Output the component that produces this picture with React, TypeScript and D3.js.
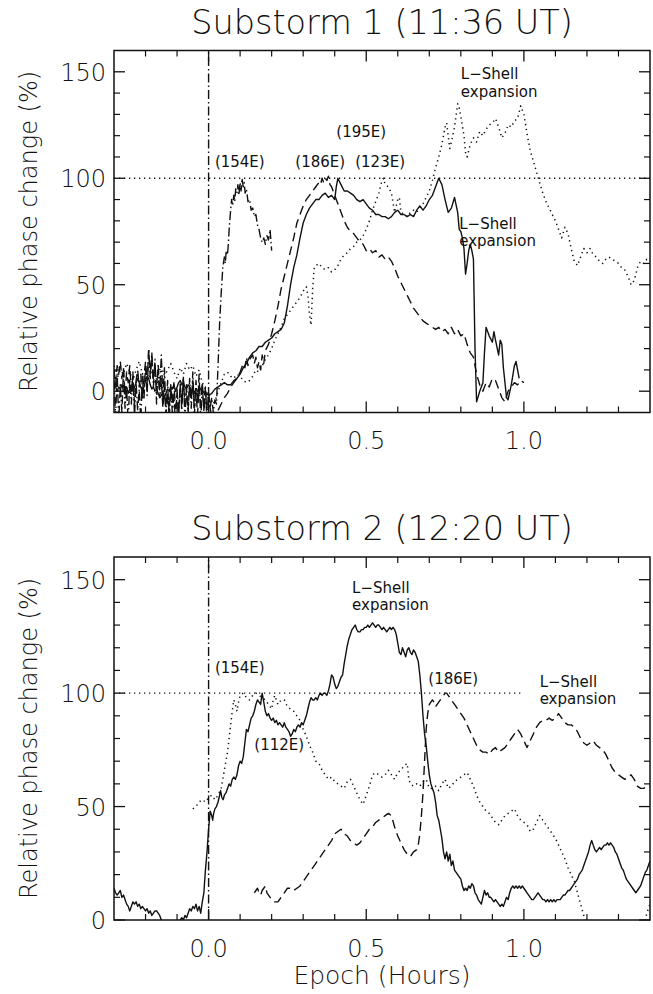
import React from "react";
import * as d3 from "d3";

type Pt = [number, number];

// ---- axes ----
const xDomain: [number, number] = [-0.3, 1.4];
const xMajorTicks = [0, 0.5, 1.0];
const xMajorLabels = ["0.0", "0.5", "1.0"];
const xMinorTicks = [-0.2, -0.1, 0.1, 0.2, 0.3, 0.4, 0.6, 0.7, 0.8, 0.9, 1.1, 1.2, 1.3];
const yMajorTicks = [0, 50, 100, 150];
const yMajorLabels = ["0", "50", "100", "150"];
const yMinorTicks = [10, 20, 30, 40, 60, 70, 80, 90, 110, 120, 130, 140];
const yDomainTop: [number, number] = [-10, 160];
const yDomainBottom: [number, number] = [0, 160];

const titleTop = "Substorm 1 (11:36 UT)";
const titleBottom = "Substorm 2 (12:20 UT)";
const yTitle = "Relative phase change (%)";
const xTitle = "Epoch (Hours)";

// ---- Substorm 1 series: [epoch hours, relative phase change %] ----
const s1Station154: Pt[] = [
  [-0.3, 5], [-0.295, -12], [-0.29, 8], [-0.285, -14], [-0.28, 3], [-0.275, -10], [-0.27, 10], [-0.265, -8],
  [-0.26, 2], [-0.255, -15], [-0.25, 6], [-0.245, -6], [-0.24, 9], [-0.235, -12], [-0.23, 4], [-0.225, -9],
  [-0.22, 1], [-0.215, -14], [-0.21, 7], [-0.205, -4], [-0.2, 12], [-0.195, -2], [-0.19, 20], [-0.185, 6],
  [-0.18, 18], [-0.175, 2], [-0.17, 15], [-0.165, -6], [-0.16, 13], [-0.155, 0], [-0.15, 17], [-0.145, -3],
  [-0.14, 11], [-0.135, -12], [-0.13, 5], [-0.125, -14], [-0.12, 2], [-0.115, -10], [-0.11, -2], [-0.105, -15],
  [-0.1, 1], [-0.095, -12], [-0.09, 4], [-0.085, -9], [-0.08, 7], [-0.075, -13], [-0.07, 3], [-0.065, -11],
  [-0.06, 6], [-0.055, -8], [-0.05, 9], [-0.045, -12], [-0.04, 5], [-0.035, -6], [-0.03, 8], [-0.025, -14],
  [-0.02, 3], [-0.015, -9], [-0.01, 2], [-0.005, -12], [0, 0], [0.005, -8], [0.01, -3], [0.015, -10],
  [0.02, -4], [0.025, -6], [0.03, 12], [0.035, 32], [0.04, 46], [0.045, 58], [0.05, 63], [0.053, 60],
  [0.056, 66], [0.06, 64], [0.063, 70], [0.066, 78], [0.07, 85], [0.073, 90], [0.076, 87], [0.08, 92],
  [0.083, 89], [0.086, 95], [0.09, 93], [0.093, 97], [0.096, 92], [0.1, 98], [0.103, 94], [0.106, 100],
  [0.11, 96], [0.113, 98], [0.116, 93], [0.12, 95], [0.125, 89], [0.13, 90], [0.135, 85], [0.14, 86],
  [0.145, 82], [0.15, 83], [0.155, 78], [0.16, 76], [0.165, 72], [0.17, 70], [0.175, 72], [0.18, 69],
  [0.185, 73], [0.19, 71], [0.195, 76], [0.2, 66],
];

const s1Station186: Pt[] = [
  [-0.3, 10], [-0.295, 3], [-0.29, 12], [-0.285, 8], [-0.28, 14], [-0.275, 6], [-0.27, 11], [-0.265, -2],
  [-0.26, 9], [-0.255, 4], [-0.25, 12], [-0.245, 0], [-0.24, 7], [-0.235, -6], [-0.23, 5], [-0.225, 10],
  [-0.22, 2], [-0.215, 8], [-0.21, -4], [-0.205, 6], [-0.2, 14], [-0.195, 4], [-0.19, 19], [-0.185, 9],
  [-0.18, 16], [-0.175, 5], [-0.17, 12], [-0.165, 3], [-0.16, 10], [-0.155, -3], [-0.15, 6], [-0.145, -8],
  [-0.14, 2], [-0.135, -11], [-0.13, -2], [-0.125, -9], [-0.12, 3], [-0.115, -6], [-0.11, 4], [-0.105, -8],
  [-0.1, -1], [-0.095, -10], [-0.09, 2], [-0.085, -5], [-0.08, 6], [-0.075, -7], [-0.07, 1], [-0.065, -9],
  [-0.06, 3], [-0.055, -4], [-0.05, 5], [-0.045, -8], [-0.04, 0], [-0.035, -11], [-0.03, 2], [-0.025, -6],
  [-0.02, 4], [-0.015, -9], [-0.01, 0], [-0.005, -13], [0, -4], [0.01, -12], [0.02, -14], [0.03, -9],
  [0.04, -6], [0.05, -3], [0.06, -1], [0.07, 2], [0.08, 4], [0.09, 6], [0.1, 9], [0.11, 13],
  [0.115, 11], [0.12, 16], [0.125, 12], [0.13, 15], [0.14, 17], [0.145, 13], [0.15, 16], [0.155, 11],
  [0.16, 14], [0.165, 10], [0.17, 17], [0.175, 13], [0.18, 19], [0.19, 22], [0.2, 27], [0.21, 33],
  [0.22, 40], [0.23, 48], [0.24, 54], [0.25, 60], [0.26, 66], [0.27, 72], [0.28, 79], [0.29, 83],
  [0.3, 87], [0.31, 90], [0.32, 92], [0.33, 94], [0.34, 96], [0.35, 98], [0.355, 97], [0.36, 100],
  [0.365, 98], [0.37, 100], [0.375, 99], [0.38, 101], [0.385, 97], [0.39, 96], [0.4, 92], [0.41, 88],
  [0.42, 84], [0.43, 80], [0.44, 77], [0.45, 75], [0.46, 74], [0.47, 72], [0.48, 70], [0.49, 69],
  [0.5, 66], [0.51, 67], [0.52, 65], [0.53, 66], [0.54, 63], [0.55, 64], [0.56, 62], [0.57, 63],
  [0.58, 61], [0.59, 58], [0.6, 54], [0.61, 51], [0.62, 48], [0.63, 45], [0.64, 42], [0.65, 39],
  [0.66, 37], [0.67, 35], [0.68, 33], [0.69, 32], [0.7, 31], [0.71, 30], [0.72, 29], [0.73, 30],
  [0.74, 28], [0.75, 29], [0.76, 27], [0.77, 30], [0.78, 27], [0.79, 29], [0.8, 26], [0.81, 27],
  [0.82, 22], [0.83, 18], [0.84, 16], [0.85, 8], [0.86, 3], [0.87, 0], [0.88, 4], [0.89, 2],
  [0.9, 6], [0.91, 5], [0.92, 1], [0.93, -3], [0.94, -5], [0.95, 0], [0.96, 2], [0.97, 4],
  [0.98, 3], [0.99, 5], [1.0, 4],
];

const s1Station195: Pt[] = [
  [-0.3, 4], [-0.295, 2], [-0.29, 0], [-0.285, 2], [-0.28, 1], [-0.275, 3], [-0.27, 0], [-0.265, 1],
  [-0.26, 2], [-0.255, -1], [-0.25, 1], [-0.245, 3], [-0.24, 0], [-0.235, 2], [-0.23, 4], [-0.225, 6],
  [-0.22, 4], [-0.215, 2], [-0.21, 0], [-0.205, 2], [-0.2, 5], [-0.195, 7], [-0.19, 6], [-0.185, 3],
  [-0.18, 1], [-0.175, 2], [-0.17, 0], [-0.165, 1], [-0.16, -1], [-0.155, -3], [-0.15, -2], [-0.145, 0],
  [-0.14, -3], [-0.135, -1], [-0.13, 1], [-0.125, 0], [-0.12, 2], [-0.115, 1], [-0.11, 3], [-0.105, 0],
  [-0.1, 2], [-0.095, 4], [-0.09, 5], [-0.085, 3], [-0.08, 4], [-0.075, 2], [-0.07, 1], [-0.065, 3],
  [-0.06, 2], [-0.055, 0], [-0.05, 1], [-0.045, -1], [-0.04, 1], [-0.035, 0], [-0.03, 2], [-0.025, 1],
  [-0.02, -1], [-0.015, 0], [-0.01, -2], [-0.005, -1], [0, -2], [0.01, -1], [0.02, 1], [0.03, 2],
  [0.04, 3], [0.05, 4], [0.06, 3], [0.07, 3], [0.08, 5], [0.09, 6], [0.1, 8], [0.11, 11],
  [0.12, 13], [0.13, 16], [0.14, 18], [0.15, 19], [0.16, 21], [0.17, 21], [0.18, 23], [0.19, 24],
  [0.2, 25], [0.21, 27], [0.22, 28], [0.23, 29], [0.24, 32], [0.25, 40], [0.26, 50], [0.27, 58],
  [0.28, 64], [0.29, 72], [0.3, 79], [0.31, 83], [0.32, 86], [0.33, 88], [0.34, 90], [0.35, 90],
  [0.36, 92], [0.37, 93], [0.38, 91], [0.39, 92], [0.4, 90], [0.405, 96], [0.41, 100], [0.42, 97],
  [0.43, 94], [0.44, 94], [0.45, 93], [0.46, 92], [0.47, 90], [0.48, 89], [0.49, 90], [0.5, 88],
  [0.51, 86], [0.52, 85], [0.53, 83], [0.54, 83], [0.55, 82], [0.56, 82], [0.57, 81], [0.58, 82],
  [0.59, 84], [0.6, 85], [0.61, 83], [0.62, 83], [0.63, 82], [0.64, 83], [0.65, 82], [0.66, 85],
  [0.67, 87], [0.68, 85], [0.69, 87], [0.7, 90], [0.71, 92], [0.72, 96], [0.73, 100], [0.74, 97],
  [0.75, 90], [0.76, 84], [0.77, 86], [0.78, 91], [0.79, 84], [0.795, 76], [0.8, 75], [0.805, 72],
  [0.81, 67], [0.815, 55], [0.82, 60], [0.825, 66], [0.83, 69], [0.835, 66], [0.84, 62], [0.845, 20],
  [0.85, -5], [0.86, 0], [0.87, 4], [0.875, 18], [0.88, 30], [0.89, 26], [0.9, 23], [0.905, 28],
  [0.91, 24], [0.92, 17], [0.925, 24], [0.93, 22], [0.935, 11], [0.945, -3], [0.95, -4], [0.96, 3],
  [0.97, 12], [0.975, 14], [0.98, 10], [0.985, 6],
];

const s1Station123: Pt[] = [
  [-0.3, 12], [-0.29, 6], [-0.28, 10], [-0.27, 8], [-0.26, 13], [-0.25, 9], [-0.24, 5], [-0.23, 10],
  [-0.22, 14], [-0.21, 8], [-0.2, 11], [-0.19, 6], [-0.18, 9], [-0.17, 4], [-0.16, 8], [-0.15, 12],
  [-0.14, 7], [-0.13, 10], [-0.12, 13], [-0.11, 9], [-0.1, 6], [-0.09, 11], [-0.08, 8], [-0.07, 13],
  [-0.06, 10], [-0.05, 12], [-0.04, 7], [-0.03, 10], [-0.02, 4], [-0.01, 1], [0, -4], [0.01, -6],
  [0.02, -5], [0.03, 0], [0.04, 4], [0.05, 8], [0.06, 9], [0.07, 7], [0.08, 6], [0.09, 8],
  [0.1, 7], [0.11, 5], [0.12, 4], [0.13, 5], [0.14, 7], [0.15, 10], [0.16, 9], [0.17, 12],
  [0.18, 15], [0.19, 17], [0.2, 20], [0.21, 24], [0.22, 27], [0.23, 30], [0.24, 34], [0.25, 36],
  [0.26, 38], [0.27, 40], [0.28, 42], [0.29, 44], [0.3, 47], [0.31, 49], [0.315, 45], [0.32, 36],
  [0.325, 31], [0.33, 48], [0.335, 58], [0.34, 59], [0.35, 60], [0.36, 58], [0.37, 57], [0.38, 58],
  [0.39, 56], [0.4, 57], [0.41, 59], [0.42, 62], [0.43, 64], [0.44, 65], [0.45, 67], [0.46, 68],
  [0.47, 70], [0.48, 71], [0.49, 73], [0.5, 76], [0.51, 80], [0.52, 85], [0.53, 89], [0.54, 93],
  [0.55, 99], [0.555, 100], [0.56, 97], [0.57, 96], [0.58, 93], [0.59, 84], [0.6, 90], [0.605, 91],
  [0.61, 84], [0.62, 83], [0.63, 82], [0.64, 84], [0.65, 85], [0.66, 84], [0.67, 86], [0.68, 88],
  [0.69, 91], [0.7, 94], [0.71, 99], [0.72, 105], [0.73, 110], [0.74, 116], [0.75, 124], [0.755, 126],
  [0.76, 120], [0.765, 114], [0.77, 117], [0.78, 124], [0.79, 135], [0.795, 133], [0.8, 129], [0.81, 120],
  [0.815, 112], [0.82, 110], [0.83, 116], [0.84, 119], [0.85, 117], [0.86, 122], [0.87, 120], [0.88, 123],
  [0.89, 125], [0.9, 126], [0.91, 128], [0.92, 124], [0.93, 119], [0.94, 121], [0.95, 125], [0.96, 124],
  [0.97, 127], [0.98, 128], [0.99, 134], [1.0, 130], [1.01, 121], [1.02, 113], [1.03, 108], [1.04, 103],
  [1.05, 98], [1.06, 93], [1.07, 89], [1.08, 86], [1.09, 83], [1.1, 80], [1.11, 76], [1.12, 72],
  [1.13, 77], [1.14, 74], [1.15, 67], [1.16, 61], [1.17, 59], [1.18, 63], [1.19, 67], [1.2, 65],
  [1.21, 67], [1.22, 64], [1.23, 63], [1.24, 61], [1.25, 60], [1.26, 62], [1.27, 63], [1.28, 62],
  [1.29, 61], [1.3, 60], [1.31, 58], [1.32, 57], [1.33, 54], [1.34, 50], [1.35, 52], [1.36, 58],
  [1.37, 61], [1.38, 60], [1.39, 62], [1.4, 61],
];

// ---- Substorm 2 series ----
const s2Station154: Pt[] = [
  [-0.3, 14], [-0.295, 12], [-0.29, 11], [-0.285, 12], [-0.28, 13], [-0.275, 10], [-0.27, 11], [-0.265, 9],
  [-0.26, 7], [-0.255, 6], [-0.25, 4], [-0.245, 6], [-0.24, 8], [-0.235, 7], [-0.23, 8], [-0.225, 6],
  [-0.22, 7], [-0.215, 5], [-0.21, 6], [-0.205, 5], [-0.2, 4], [-0.195, 5], [-0.19, 3], [-0.185, 4],
  [-0.18, 2], [-0.175, 3], [-0.17, 4], [-0.165, 4], [-0.16, 3], [-0.155, 2], [-0.15, 0], [-0.145, -2],
  [-0.14, -4], [-0.12, -6], [-0.1, -3], [-0.09, 0], [-0.085, 1], [-0.08, 0], [-0.075, 2], [-0.07, 1],
  [-0.065, 3], [-0.06, 5], [-0.055, 4], [-0.05, 6], [-0.045, 5], [-0.04, 7], [-0.035, 4], [-0.03, 6],
  [-0.025, 3], [-0.02, 8], [-0.015, 12], [-0.01, 22], [-0.005, 30], [0, 40], [0.005, 48], [0.01, 46],
  [0.013, 44], [0.016, 47], [0.02, 49], [0.025, 50], [0.03, 52], [0.035, 55], [0.038, 57], [0.042, 54],
  [0.046, 53], [0.05, 55], [0.055, 56], [0.06, 58], [0.065, 60], [0.07, 59], [0.075, 62], [0.08, 63],
  [0.085, 62], [0.09, 64], [0.095, 68], [0.1, 70], [0.105, 69], [0.11, 72], [0.115, 78], [0.12, 84],
  [0.125, 83], [0.13, 86], [0.135, 89], [0.14, 90], [0.145, 92], [0.15, 95], [0.155, 97], [0.16, 96],
  [0.165, 95], [0.17, 100], [0.175, 96], [0.18, 92], [0.185, 90], [0.19, 91], [0.195, 89], [0.2, 88],
  [0.205, 89], [0.21, 87], [0.215, 88], [0.22, 86], [0.225, 87], [0.23, 86], [0.235, 85], [0.24, 87],
  [0.245, 85], [0.25, 84], [0.255, 83], [0.26, 81], [0.265, 82], [0.27, 84], [0.275, 83], [0.28, 85],
  [0.285, 86], [0.29, 85], [0.295, 87], [0.3, 86], [0.305, 88], [0.31, 90], [0.315, 93], [0.32, 96],
  [0.325, 98], [0.33, 97], [0.335, 97], [0.34, 98], [0.345, 97], [0.35, 99], [0.355, 100], [0.36, 99],
  [0.365, 100], [0.37, 100], [0.375, 99], [0.38, 101], [0.385, 104], [0.39, 108], [0.395, 107], [0.4, 104],
  [0.405, 102], [0.41, 103], [0.415, 105], [0.42, 107], [0.425, 108], [0.43, 113], [0.435, 117], [0.44, 121],
  [0.445, 124], [0.45, 126], [0.455, 128], [0.46, 129], [0.465, 130], [0.47, 128], [0.475, 127], [0.48, 127],
  [0.485, 128], [0.49, 128], [0.495, 129], [0.5, 129], [0.505, 130], [0.51, 129], [0.515, 130], [0.52, 131],
  [0.525, 130], [0.53, 129], [0.535, 130], [0.54, 130], [0.545, 129], [0.55, 128], [0.555, 129], [0.56, 128],
  [0.565, 127], [0.57, 128], [0.575, 129], [0.58, 128], [0.585, 129], [0.59, 128], [0.595, 126], [0.6, 122],
  [0.605, 118], [0.61, 117], [0.615, 120], [0.62, 118], [0.625, 116], [0.63, 119], [0.635, 120], [0.64, 118],
  [0.645, 117], [0.65, 119], [0.655, 118], [0.66, 116], [0.665, 114], [0.67, 108], [0.675, 100], [0.68, 90],
  [0.685, 82], [0.69, 77], [0.695, 70], [0.7, 64], [0.705, 60], [0.71, 58], [0.715, 56], [0.72, 52],
  [0.725, 46], [0.73, 44], [0.735, 40], [0.74, 36], [0.745, 30], [0.75, 27], [0.755, 30], [0.76, 26],
  [0.765, 29], [0.77, 24], [0.775, 26], [0.78, 22], [0.785, 21], [0.79, 20], [0.795, 19], [0.8, 18],
  [0.805, 15], [0.81, 13], [0.815, 14], [0.82, 13], [0.825, 15], [0.83, 14], [0.835, 16], [0.84, 15],
  [0.845, 12], [0.85, 11], [0.855, 9], [0.86, 8], [0.865, 7], [0.87, 10], [0.875, 13], [0.88, 11],
  [0.885, 12], [0.89, 10], [0.895, 10], [0.9, 9], [0.905, 8], [0.91, 9], [0.915, 8], [0.92, 7],
  [0.925, 6], [0.93, 7], [0.935, 6], [0.94, 8], [0.945, 10], [0.95, 9], [0.955, 12], [0.96, 14],
  [0.965, 15], [0.97, 14], [0.975, 15], [0.98, 14], [0.985, 15], [0.99, 14], [0.995, 15], [1.0, 14],
  [1.005, 13], [1.01, 12], [1.015, 11], [1.02, 10], [1.025, 9], [1.03, 9], [1.035, 10], [1.04, 11],
  [1.045, 12], [1.05, 11], [1.055, 10], [1.06, 9], [1.065, 9], [1.07, 8], [1.075, 9], [1.08, 8],
  [1.085, 9], [1.09, 8], [1.095, 9], [1.1, 8], [1.105, 9], [1.11, 9], [1.115, 9], [1.12, 10],
  [1.125, 11], [1.13, 11], [1.135, 12], [1.14, 13], [1.145, 13], [1.15, 14], [1.155, 15], [1.16, 16],
  [1.165, 17], [1.17, 18], [1.175, 20], [1.18, 21], [1.185, 22], [1.19, 24], [1.195, 26], [1.2, 28],
  [1.205, 30], [1.21, 33], [1.215, 35], [1.22, 33], [1.225, 31], [1.23, 30], [1.235, 31], [1.24, 32],
  [1.245, 31], [1.25, 32], [1.255, 33], [1.26, 33], [1.265, 34], [1.27, 33], [1.275, 34], [1.28, 33],
  [1.285, 32], [1.29, 30], [1.295, 29], [1.3, 27], [1.305, 25], [1.31, 23], [1.315, 22], [1.32, 20],
  [1.325, 18], [1.33, 17], [1.335, 16], [1.34, 15], [1.345, 14], [1.35, 13], [1.355, 12], [1.36, 13],
  [1.365, 14], [1.37, 15], [1.375, 17], [1.38, 19], [1.385, 21], [1.39, 22], [1.395, 24], [1.4, 26],
];

const s2Station112: Pt[] = [
  [-0.05, 49], [-0.04, 50], [-0.03, 52], [-0.02, 53], [-0.01, 52], [0, 54], [0.01, 55], [0.02, 53],
  [0.03, 55], [0.04, 58], [0.045, 62], [0.05, 66], [0.055, 70], [0.06, 74], [0.065, 80], [0.07, 86],
  [0.075, 92], [0.08, 97], [0.085, 95], [0.09, 92], [0.095, 96], [0.1, 99], [0.11, 100], [0.12, 98],
  [0.13, 97], [0.14, 99], [0.15, 100], [0.16, 99], [0.17, 98], [0.18, 97], [0.19, 95], [0.2, 93],
  [0.205, 97], [0.21, 99], [0.22, 95], [0.23, 97], [0.24, 97], [0.25, 94], [0.26, 93], [0.27, 92],
  [0.28, 90], [0.29, 88], [0.3, 84], [0.31, 81], [0.32, 77], [0.33, 74], [0.34, 70], [0.35, 69],
  [0.36, 66], [0.37, 64], [0.38, 62], [0.39, 63], [0.4, 61], [0.41, 60], [0.42, 59], [0.43, 58],
  [0.44, 61], [0.45, 62], [0.46, 59], [0.47, 56], [0.48, 53], [0.49, 51], [0.5, 55], [0.51, 59],
  [0.52, 64], [0.53, 65], [0.54, 64], [0.55, 63], [0.56, 64], [0.57, 66], [0.58, 64], [0.59, 62],
  [0.6, 65], [0.61, 66], [0.62, 68], [0.63, 69], [0.635, 62], [0.64, 60], [0.65, 59], [0.66, 60],
  [0.67, 59], [0.68, 61], [0.69, 62], [0.7, 58], [0.71, 58], [0.72, 59], [0.73, 57], [0.74, 60],
  [0.75, 62], [0.76, 58], [0.77, 59], [0.78, 61], [0.79, 62], [0.8, 63], [0.81, 64], [0.82, 65],
  [0.83, 62], [0.84, 59], [0.85, 55], [0.86, 52], [0.87, 50], [0.88, 48], [0.89, 47], [0.9, 45],
  [0.91, 43], [0.92, 42], [0.93, 44], [0.94, 46], [0.95, 47], [0.96, 48], [0.97, 49], [0.98, 46],
  [0.99, 44], [1.0, 43], [1.01, 42], [1.02, 39], [1.03, 40], [1.04, 43], [1.05, 46], [1.06, 44],
  [1.07, 42], [1.08, 40], [1.09, 38], [1.1, 36], [1.11, 33], [1.12, 30], [1.13, 27], [1.14, 23],
  [1.15, 20], [1.16, 17], [1.17, 12], [1.18, 7], [1.19, 2], [1.2, -3], [1.25, -15], [1.35, -12],
  [1.38, -3], [1.39, 3], [1.4, 7],
];

const s2Station186: Pt[] = [
  [0.145, 12], [0.15, 13], [0.155, 14], [0.16, 12], [0.165, 11], [0.17, 13], [0.175, 14], [0.18, 15],
  [0.185, 12], [0.19, 11], [0.2, 9], [0.21, 8], [0.22, 8], [0.23, 10], [0.24, 12], [0.25, 14],
  [0.26, 14], [0.27, 13], [0.28, 14], [0.29, 15], [0.3, 17], [0.31, 19], [0.32, 21], [0.33, 23],
  [0.34, 25], [0.35, 27], [0.36, 29], [0.37, 31], [0.38, 33], [0.39, 35], [0.4, 38], [0.41, 39],
  [0.42, 40], [0.43, 38], [0.44, 37], [0.45, 35], [0.46, 34], [0.47, 33], [0.48, 34], [0.49, 36],
  [0.5, 38], [0.51, 40], [0.52, 41], [0.53, 43], [0.54, 44], [0.55, 45], [0.56, 46], [0.57, 47],
  [0.58, 46], [0.59, 41], [0.6, 37], [0.61, 34], [0.62, 31], [0.63, 29], [0.64, 28], [0.65, 30],
  [0.66, 31], [0.665, 33], [0.67, 38], [0.675, 46], [0.68, 56], [0.685, 70], [0.69, 84], [0.695, 91],
  [0.7, 95], [0.705, 96], [0.71, 97], [0.715, 96], [0.72, 94], [0.725, 95], [0.73, 96], [0.735, 97],
  [0.74, 98], [0.745, 99], [0.75, 100], [0.755, 100], [0.76, 99], [0.77, 97], [0.78, 95], [0.79, 93],
  [0.8, 91], [0.81, 89], [0.82, 86], [0.83, 83], [0.84, 80], [0.85, 77], [0.86, 75], [0.87, 74],
  [0.88, 74], [0.89, 73], [0.9, 75], [0.91, 76], [0.92, 74], [0.93, 75], [0.94, 76], [0.95, 78],
  [0.96, 80], [0.97, 82], [0.98, 84], [0.99, 82], [1.0, 79], [1.01, 76], [1.02, 79], [1.03, 82],
  [1.04, 85], [1.05, 87], [1.06, 88], [1.07, 88], [1.08, 89], [1.09, 88], [1.1, 89], [1.11, 91],
  [1.12, 89], [1.13, 87], [1.14, 86], [1.15, 86], [1.16, 85], [1.17, 83], [1.18, 80], [1.19, 78],
  [1.2, 77], [1.21, 78], [1.22, 79], [1.23, 77], [1.24, 76], [1.25, 75], [1.26, 73], [1.27, 70],
  [1.28, 67], [1.29, 65], [1.3, 64], [1.31, 63], [1.32, 62], [1.33, 63], [1.34, 64], [1.35, 62],
  [1.36, 59], [1.37, 58], [1.38, 58], [1.39, 59], [1.4, 59],
];

// station and region labels, placed in data coordinates (baseline position)
type Note = { text: string; t: number; v: number };
const notesTop: Note[] = [
  { text: "(154E)", t: 0.02, v: 105.5 },
  { text: "(186E)", t: 0.275, v: 105.5 },
  { text: "(195E)", t: 0.405, v: 119.5 },
  { text: "(123E)", t: 0.465, v: 105.5 },
  { text: "L\u2212Shell", t: 0.8, v: 146.5 },
  { text: "expansion", t: 0.8, v: 138 },
  { text: "L\u2212Shell", t: 0.795, v: 76 },
  { text: "expansion", t: 0.795, v: 68 },
];
const notesBottom: Note[] = [
  { text: "(154E)", t: 0.02, v: 109 },
  { text: "(112E)", t: 0.145, v: 75 },
  { text: "(186E)", t: 0.697, v: 104 },
  { text: "L\u2212Shell", t: 0.455, v: 144 },
  { text: "expansion", t: 0.455, v: 136.5 },
  { text: "L\u2212Shell", t: 1.05, v: 102.8 },
  { text: "expansion", t: 1.05, v: 95.3 },
];

const FONT = "'DejaVu Sans', sans-serif";
const WEIGHT = 200;
const NOTE_WEIGHT = 400;
const INK = "#111";
const styles = {
  solid: { dash: "none", width: 1.4 },
  dotted: { dash: "1.3 3.7", width: 1.5 },
  dashed: { dash: "9 5", width: 1.4 },
  dashDot: { dash: "9 3 1.5 3", width: 1.4 },
};

type SeriesDef = { data: Pt[]; style: keyof typeof styles };

type PanelProps = {
  id: string;
  top: number;
  bottom: number;
  yDomain: [number, number];
  title: string;
  series: SeriesDef[];
  notes: Note[];
  refEnd: number;
  xLabelY: number;
};

const LEFT = 114;
const RIGHT = 650;

function Panel({ id, top, bottom, yDomain, title, series, notes, refEnd, xLabelY }: PanelProps) {
  const x = d3.scaleLinear().domain(xDomain).range([LEFT, RIGHT]);
  const y = d3.scaleLinear().domain(yDomain).range([bottom, top]);
  const line = d3
    .line<Pt>()
    .x((d) => x(d[0]))
    .y((d) => y(d[1]));
  const cy = (top + bottom) / 2;
  const majorLen = 11;
  const minorLen = 6;
  return (
    <g>
      <defs>
        <clipPath id={`clip-${id}`}>
          <rect x={LEFT} y={top} width={RIGHT - LEFT} height={bottom - top} />
        </clipPath>
      </defs>
      <text x={(LEFT + RIGHT) / 2} y={top - 17} textAnchor="middle" fontSize={33.5} fontWeight={WEIGHT} fontFamily={FONT} fill={INK}>
        {title}
      </text>
      <g clipPath={`url(#clip-${id})`}>
        <line x1={x(xDomain[0])} x2={x(refEnd)} y1={y(100)} y2={y(100)} stroke={INK} strokeWidth={1.4} strokeDasharray="1.3 3.7" />
        <line x1={x(0)} x2={x(0)} y1={bottom} y2={top} stroke={INK} strokeWidth={1.4} strokeDasharray={styles.dashDot.dash} />
        {series.map((s, i) => (
          <path
            key={i}
            d={line(s.data) ?? ""}
            fill="none"
            stroke={INK}
            strokeWidth={styles[s.style].width}
            strokeDasharray={styles[s.style].dash}
            strokeLinejoin="round"
          />
        ))}
      </g>
      {notes.map((n, i) => (
        <text key={i} x={x(n.t)} y={y(n.v)} fontSize={15} fontWeight={NOTE_WEIGHT} fontFamily={FONT} fill={INK}>
          {n.text}
        </text>
      ))}
      <rect x={LEFT} y={top} width={RIGHT - LEFT} height={bottom - top} fill="none" stroke={INK} strokeWidth={1.5} />
      {xMajorTicks.map((t, i) => (
        <g key={`xM${i}`}>
          <line x1={x(t)} x2={x(t)} y1={bottom} y2={bottom - majorLen} stroke={INK} strokeWidth={1.3} />
          <line x1={x(t)} x2={x(t)} y1={top} y2={top + majorLen} stroke={INK} strokeWidth={1.3} />
          <text x={x(t)} y={xLabelY} textAnchor="middle" fontSize={24} fontWeight={WEIGHT} fontFamily={FONT} fill={INK}>
            {xMajorLabels[i]}
          </text>
        </g>
      ))}
      {xMinorTicks.map((t, i) => (
        <g key={`xm${i}`}>
          <line x1={x(t)} x2={x(t)} y1={bottom} y2={bottom - minorLen} stroke={INK} strokeWidth={1.2} />
          <line x1={x(t)} x2={x(t)} y1={top} y2={top + minorLen} stroke={INK} strokeWidth={1.2} />
        </g>
      ))}
      {yMajorTicks.map((v, i) => (
        <g key={`yM${i}`}>
          <line x1={LEFT} x2={LEFT + majorLen} y1={y(v)} y2={y(v)} stroke={INK} strokeWidth={1.3} />
          <line x1={RIGHT} x2={RIGHT - majorLen} y1={y(v)} y2={y(v)} stroke={INK} strokeWidth={1.3} />
          <text x={LEFT - 8} y={y(v) + 9} textAnchor="end" fontSize={24} fontWeight={WEIGHT} fontFamily={FONT} fill={INK}>
            {yMajorLabels[i]}
          </text>
        </g>
      ))}
      {yMinorTicks.map((v, i) => (
        <g key={`ym${i}`}>
          <line x1={LEFT} x2={LEFT + minorLen} y1={y(v)} y2={y(v)} stroke={INK} strokeWidth={1.2} />
          <line x1={RIGHT} x2={RIGHT - minorLen} y1={y(v)} y2={y(v)} stroke={INK} strokeWidth={1.2} />
        </g>
      ))}
      <text
        transform={`translate(37,${cy}) rotate(-90)`}
        textAnchor="middle"
        fontSize={24}
        fontWeight={WEIGHT}
        fontFamily={FONT}
        fill={INK}
      >
        {yTitle}
      </text>
    </g>
  );
}

export default function App() {
  return (
    <svg width={653} height={994} viewBox="0 0 653 994" style={{ display: "block", background: "#fff", position: "absolute", left: 0, top: 0 }}>
      <rect width={653} height={994} fill="#fff" />
      <Panel
        id="p1"
        top={50.5}
        bottom={412.5}
        yDomain={yDomainTop}
        title={titleTop}
        series={[
          { data: s1Station154, style: "dashDot" },
          { data: s1Station186, style: "dashed" },
          { data: s1Station195, style: "solid" },
          { data: s1Station123, style: "dotted" },
        ]}
        notes={notesTop}
        refEnd={1.4}
        xLabelY={449}
      />
      <Panel
        id="p2"
        top={557}
        bottom={920}
        yDomain={yDomainBottom}
        title={titleBottom}
        series={[
          { data: s2Station154, style: "solid" },
          { data: s2Station112, style: "dotted" },
          { data: s2Station186, style: "dashed" },
        ]}
        notes={notesBottom}
        refEnd={1.0}
        xLabelY={957}
      />
      <text x={(LEFT + RIGHT) / 2} y={984} textAnchor="middle" fontSize={25} fontWeight={WEIGHT} fontFamily={FONT} fill={INK}>
        {xTitle}
      </text>
    </svg>
  );
}
